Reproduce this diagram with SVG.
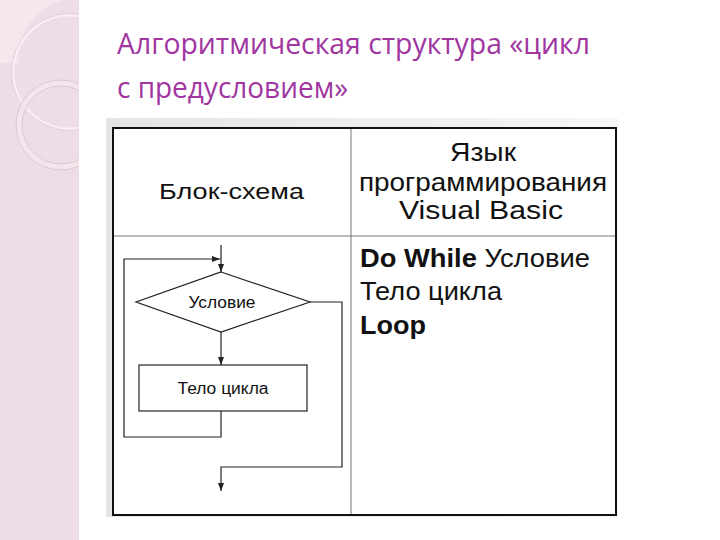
<svg xmlns="http://www.w3.org/2000/svg" width="720" height="540" viewBox="0 0 720 540">
<defs>
<style>
.title{font-family:"Open Sans","Noto Sans","Liberation Sans",sans-serif;font-size:30px;fill:#A0369F}
.t{font-family:"Liberation Sans",Arial,sans-serif;fill:#111}
.b{font-weight:bold}
.ln{fill:none;stroke:#222;stroke-width:1.2}
.shape{fill:#fff;stroke:#222;stroke-width:1.2}
</style>
<marker id="ah" viewBox="0 0 8 8" refX="8" refY="4" markerWidth="8" markerHeight="8" markerUnits="userSpaceOnUse" orient="auto">
<path d="M0,1 L8,4 L0,7 Z" fill="#222"/>
</marker>
<linearGradient id="sh" x1="0" y1="0" x2="1" y2="0">
<stop offset="0" stop-color="#e4e4e4"/>
<stop offset="1" stop-color="#f7f7f7"/>
</linearGradient>
<clipPath id="band"><rect x="0" y="0" width="79" height="540"/></clipPath>
</defs>
<rect width="720" height="540" fill="#fff"/>
<g id="decor">
<rect x="0" y="0" width="79" height="540" fill="#EEDCE6"/>
<g clip-path="url(#band)">
<path d="M0,0 H64 A62,62 0 0 0 18,63 H0 Z" fill="#F4E7EE"/>
<circle cx="70" cy="72" r="57" fill="none" stroke="#F8EEF3" stroke-width="3"/>
<circle cx="70" cy="72" r="58.5" fill="none" stroke="#DCC6D2" stroke-width="0.8"/>
<circle cx="61" cy="125" r="42" fill="none" stroke="#F2E6EC" stroke-width="6"/>
<circle cx="61" cy="125" r="45" fill="none" stroke="#D6C0CC" stroke-width="0.8"/>
<circle cx="61" cy="125" r="39" fill="none" stroke="#D6C0CC" stroke-width="0.8"/>
</g>
</g>
<g id="title">
<text class="title" x="117" y="54" textLength="473" lengthAdjust="spacingAndGlyphs">Алгоритмическая структура «цикл</text>
<text class="title" x="117" y="98" textLength="231" lengthAdjust="spacingAndGlyphs">с предусловием»</text>
</g>
<g id="table">
<rect x="106" y="118" width="512" height="399" fill="url(#sh)"/>
<rect x="113" y="128" width="503" height="387" fill="#fff"/>
<line x1="113" y1="236" x2="616" y2="236" stroke="#777" stroke-width="1"/>
<line x1="351" y1="128" x2="351" y2="515" stroke="#777" stroke-width="1"/>
<rect x="113" y="128" width="503" height="387" fill="none" stroke="#111" stroke-width="2"/>
<text class="t" x="159" y="199" font-size="22" textLength="145" lengthAdjust="spacingAndGlyphs">Блок-схема</text>
<text class="t" x="450" y="161" font-size="26" textLength="66" lengthAdjust="spacingAndGlyphs">Язык</text>
<text class="t" x="359" y="191" font-size="26" textLength="248" lengthAdjust="spacingAndGlyphs">программирования</text>
<text class="t" x="399" y="219" font-size="26" textLength="164" lengthAdjust="spacingAndGlyphs">Visual Basic</text>
<text class="t" x="360" y="267" font-size="25" textLength="230" lengthAdjust="spacingAndGlyphs"><tspan class="b">Do While</tspan> Условие</text>
<text class="t" x="360" y="300" font-size="25" textLength="142" lengthAdjust="spacingAndGlyphs">Тело цикла</text>
<text class="t b" x="360" y="334" font-size="25" textLength="66" lengthAdjust="spacingAndGlyphs">Loop</text>
</g>
<g id="connectors">
<path class="ln" d="M221,245 V272" marker-end="url(#ah)"/>
<path class="ln" d="M221,332 V365" marker-end="url(#ah)"/>
<path class="ln" d="M221,411 V437 H124 V259 H220" marker-end="url(#ah)"/>
<path class="ln" d="M310,302 H342 V467 H221 V491" marker-end="url(#ah)"/>
</g>
<g id="condition">
<polygon class="shape" points="221,272 310,302 221,332 136,302"/>
<text class="t" x="222" y="308" font-size="16" text-anchor="middle" textLength="67" lengthAdjust="spacingAndGlyphs">Условие</text>
</g>
<g id="body">
<rect class="shape" x="139" y="365" width="168" height="46"/>
<text class="t" x="223" y="394" font-size="16" text-anchor="middle" textLength="91" lengthAdjust="spacingAndGlyphs">Тело цикла</text>
</g>
</svg>
